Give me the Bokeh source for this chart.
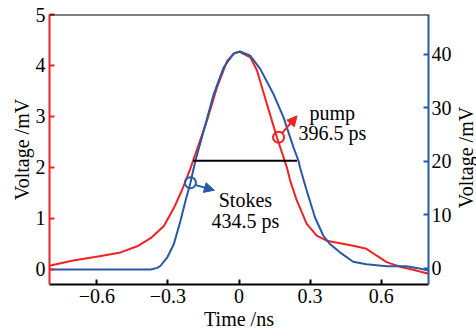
import math
from bokeh.plotting import figure
from bokeh.models import Range1d, LinearAxis, FixedTicker, Label, Arrow, NormalHead, Span
from bokeh.embed import file_html
from bokeh.resources import INLINE

# ---- data ----
pump_t = [-0.8, -0.7, -0.583, -0.5, -0.43, -0.373, -0.317, -0.275, -0.24, -0.205, -0.194,
          -0.135, -0.093, -0.05, -0.02, 0.0, 0.048, 0.076, 0.118, 0.16, 0.202, 0.216, 0.244,
          0.286, 0.328, 0.37, 0.426, 0.482, 0.538, 0.58, 0.623, 0.679, 0.735, 0.8]
pump_v = [0.07, 0.17, 0.26, 0.33, 0.45, 0.61, 0.85, 1.20, 1.56, 1.98, 2.13,
          2.92, 3.57, 4.09, 4.24, 4.27, 4.16, 3.90, 3.24, 2.59, 2.0, 1.74, 1.35,
          0.89, 0.66, 0.56, 0.51, 0.46, 0.40, 0.27, 0.14, 0.05, -0.01, -0.09]

stokes_t = [-0.8, -0.373, -0.345, -0.331, -0.303, -0.275, -0.247, -0.226, -0.205, -0.184,
            -0.149, -0.107, -0.065, -0.023, 0.005, 0.048, 0.09, 0.146, 0.188, 0.23, 0.251,
            0.258, 0.286, 0.321, 0.356, 0.384, 0.426, 0.482, 0.538, 0.623, 0.707, 0.749, 0.8]
stokes_v = [-0.2, -0.2, 0.1, 0.5, 2.05, 4.55, 8.9, 12.6, 16.0, 20.1,
            25.7, 32.5, 37.5, 40.1, 40.5, 39.7, 37.2, 32.5, 28.2, 22.6, 20.1,
            18.8, 14.5, 9.5, 6.1, 4.55, 3.0, 1.25, 0.8, 0.4, 0.4, 0.1, -0.4]

fwhm_t = [-0.194, 0.245]
fwhm_v = [2.13, 2.13]

pump_mark = (0.167, 2.59)
stokes_mark = (-0.205, 16.0)

x_ticks = [-0.6, -0.3, 0, 0.3, 0.6]
x_tick_labels = ["\u22120.6", "\u22120.3", "0", "0.3", "0.6"]
left_ticks = [0, 1, 2, 3, 4, 5]
right_ticks = [0, 10, 20, 30, 40]

RED = "#f02222"
BLUE = "#2858a8"
FONT = "'Liberation Serif', serif"
FS = "20px"

p = figure(width=476, height=336, output_backend="svg", toolbar_location=None,
           x_range=Range1d(-0.8, 0.8), y_range=Range1d(-0.3, 5),
           min_border_left=49, min_border_right=47, min_border_top=14, min_border_bottom=52)
p.extra_y_ranges = {"right": Range1d(-3, 47.4)}
p.outline_line_color = None
p.grid.visible = False
p.background_fill_color = "white"


def style(ax, color):
    ax.axis_line_color = color
    ax.axis_line_width = 2
    ax.major_tick_line_color = color
    ax.major_tick_line_width = 2
    ax.major_tick_in = 5
    ax.major_tick_out = 0
    ax.minor_tick_line_color = None
    ax.major_label_text_font = FONT
    ax.major_label_text_font_size = FS
    ax.major_label_text_color = "black"
    ax.major_label_standoff = 4
    ax.axis_label_text_font = FONT
    ax.axis_label_text_font_size = FS
    ax.axis_label_text_font_style = "normal"
    ax.axis_label_text_color = "black"
    ax.axis_label_standoff = 2


xa = p.xaxis[0]
xa.ticker = FixedTicker(ticks=x_ticks)
xa.major_label_overrides = {k: v for k, v in zip(x_ticks, x_tick_labels)}
style(xa, "black")
xa.axis_label = "Time /ns"

ya = p.yaxis[0]
ya.ticker = FixedTicker(ticks=left_ticks)
style(ya, RED)
ya.axis_label = "Voltage /mV"
ya.axis_label_standoff = 0

ra = LinearAxis(y_range_name="right", ticker=FixedTicker(ticks=right_ticks))
style(ra, BLUE)
ra.major_label_standoff = 3
p.add_layout(ra, "right")

p.add_layout(Label(text="Voltage /mV", x=11, y=127, x_units="screen", y_units="screen",
                   angle=math.pi / 2, text_align="center", text_baseline="alphabetic",
                   text_font=FONT, text_font_size=FS, text_color="black"), "right")

p.add_layout(Span(location=5, dimension="width", line_color="black", line_width=2))

p.line(pump_t, pump_v, line_color=RED, line_width=2)
p.line(stokes_t, stokes_v, line_color=BLUE, line_width=2, y_range_name="right")
p.line(fwhm_t, fwhm_v, line_color="black", line_width=2)

p.scatter([pump_mark[0]], [pump_mark[1]], marker="circle", size=11, fill_color=None,
          line_color=RED, line_width=2)
p.scatter([stokes_mark[0]], [stokes_mark[1]], marker="circle", size=11, fill_color=None,
          line_color=BLUE, line_width=2, y_range_name="right")

p.add_layout(Arrow(end=NormalHead(size=10, fill_color=RED, line_color=RED, line_width=1),
                   x_start=0.182, y_start=2.67, x_end=0.245, y_end=3.01,
                   line_color=RED, line_width=2))
p.add_layout(Arrow(end=NormalHead(size=10, fill_color=BLUE, line_color=BLUE, line_width=1),
                   x_start=-0.186, y_start=15.6, x_end=-0.104, y_end=14.6,
                   line_color=BLUE, line_width=2, y_range_name="right"))

def lab(text, x, y, **kw):
    p.add_layout(Label(text=text, x=x, y=y, text_font=FONT, text_font_size=FS,
                       text_color="black", **kw))

lab("pump", 0.394, 3.06, text_align="center", text_baseline="alphabetic")
lab("396.5 ps", 0.394, 2.67, text_align="center", text_baseline="alphabetic")
lab("Stokes", 0.027, 1.35, text_align="center", text_baseline="alphabetic")
lab("434.5 ps", 0.027, 0.955, text_align="center", text_baseline="alphabetic")

open("out.html", "w").write(file_html(p, INLINE))
